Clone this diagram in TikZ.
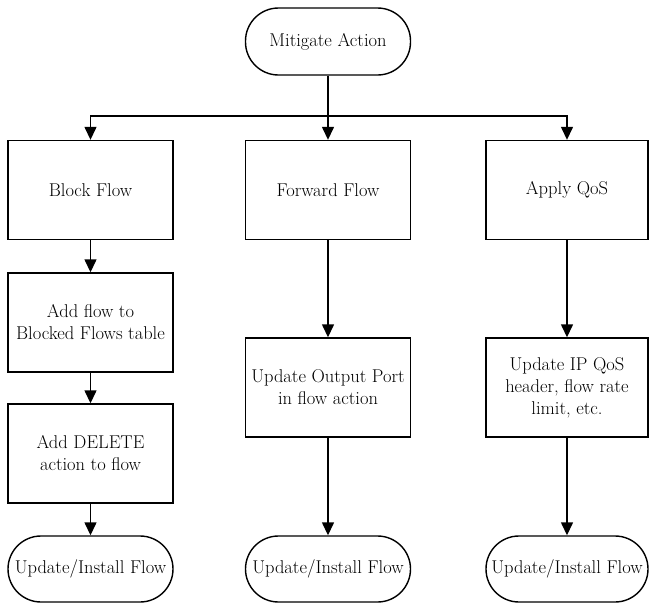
\documentclass[tikz,border=0pt]{standalone}
\usepackage{tikz}
\usetikzlibrary{positioning,arrows.meta}
\tikzset {
task/.style={shape=rectangle,draw,line width=1.4pt,minimum width=165pt,minimum height=99pt,align=center,inner sep=2pt},
terminal/.style={shape=rectangle,draw,line width=1.4pt,rounded corners=33pt,minimum width=165pt,minimum height=66pt,align=center,inner sep=2pt}
}

\begin{document}
\begin{tikzpicture}
[x=1pt,y=-1pt,>={Triangle[width=12pt,length=13pt]},font=\fontsize{18.5}{22}\selectfont]
\useasboundingbox (0,0) rectangle (649,606);
\node[terminal,minimum height=67pt] (mitigate action) at (328,41.5) {Mitigate Action};
\coordinate (split) at (328,116);
\node[task] (block flow) at (90.5,190) {Block Flow};
\node[task] (forward flow) at (328,190) {Forward Flow};
\node[task,minimum width=162pt] (apply qos) at (567,190) {Apply QoS};
\node[task] (add flow) at (90.5,322.5) {Add flow to\\Blocked Flows table};
\node[task] (add delete) at (90.5,453.5) {Add DELETE\\action to flow};
\node[task] (output port) at (328,387.5) {Update Output Port\\in flow action};
\node[task,minimum width=162pt] (update qos) at (567,387.5) {Update IP QoS\\header, flow rate\\limit, etc.};
\node[terminal] (install block) at (90.5,569) {Update/Install Flow};
\node[terminal] (install forward) at (328,569) {Update/Install Flow};
\node[terminal,minimum width=162pt] (install qos) at (567,569) {Update/Install Flow};

\begin{scope}[line width=1.4pt]
\draw[->] (mitigate action) to (forward flow);
\draw[->] (split) -| (block flow);
\draw[->] (split) -| (apply qos);
\draw[->] (block flow) to (add flow);
\draw[->] (add flow) to (add delete);
\draw[->] (add delete) to (install block);
\draw[->] (forward flow) to (output port);
\draw[->] (output port) to (install forward);
\draw[->] (apply qos) to (update qos);
\draw[->] (update qos) to (install qos);
\end{scope}
\end{tikzpicture}
\end{document}
